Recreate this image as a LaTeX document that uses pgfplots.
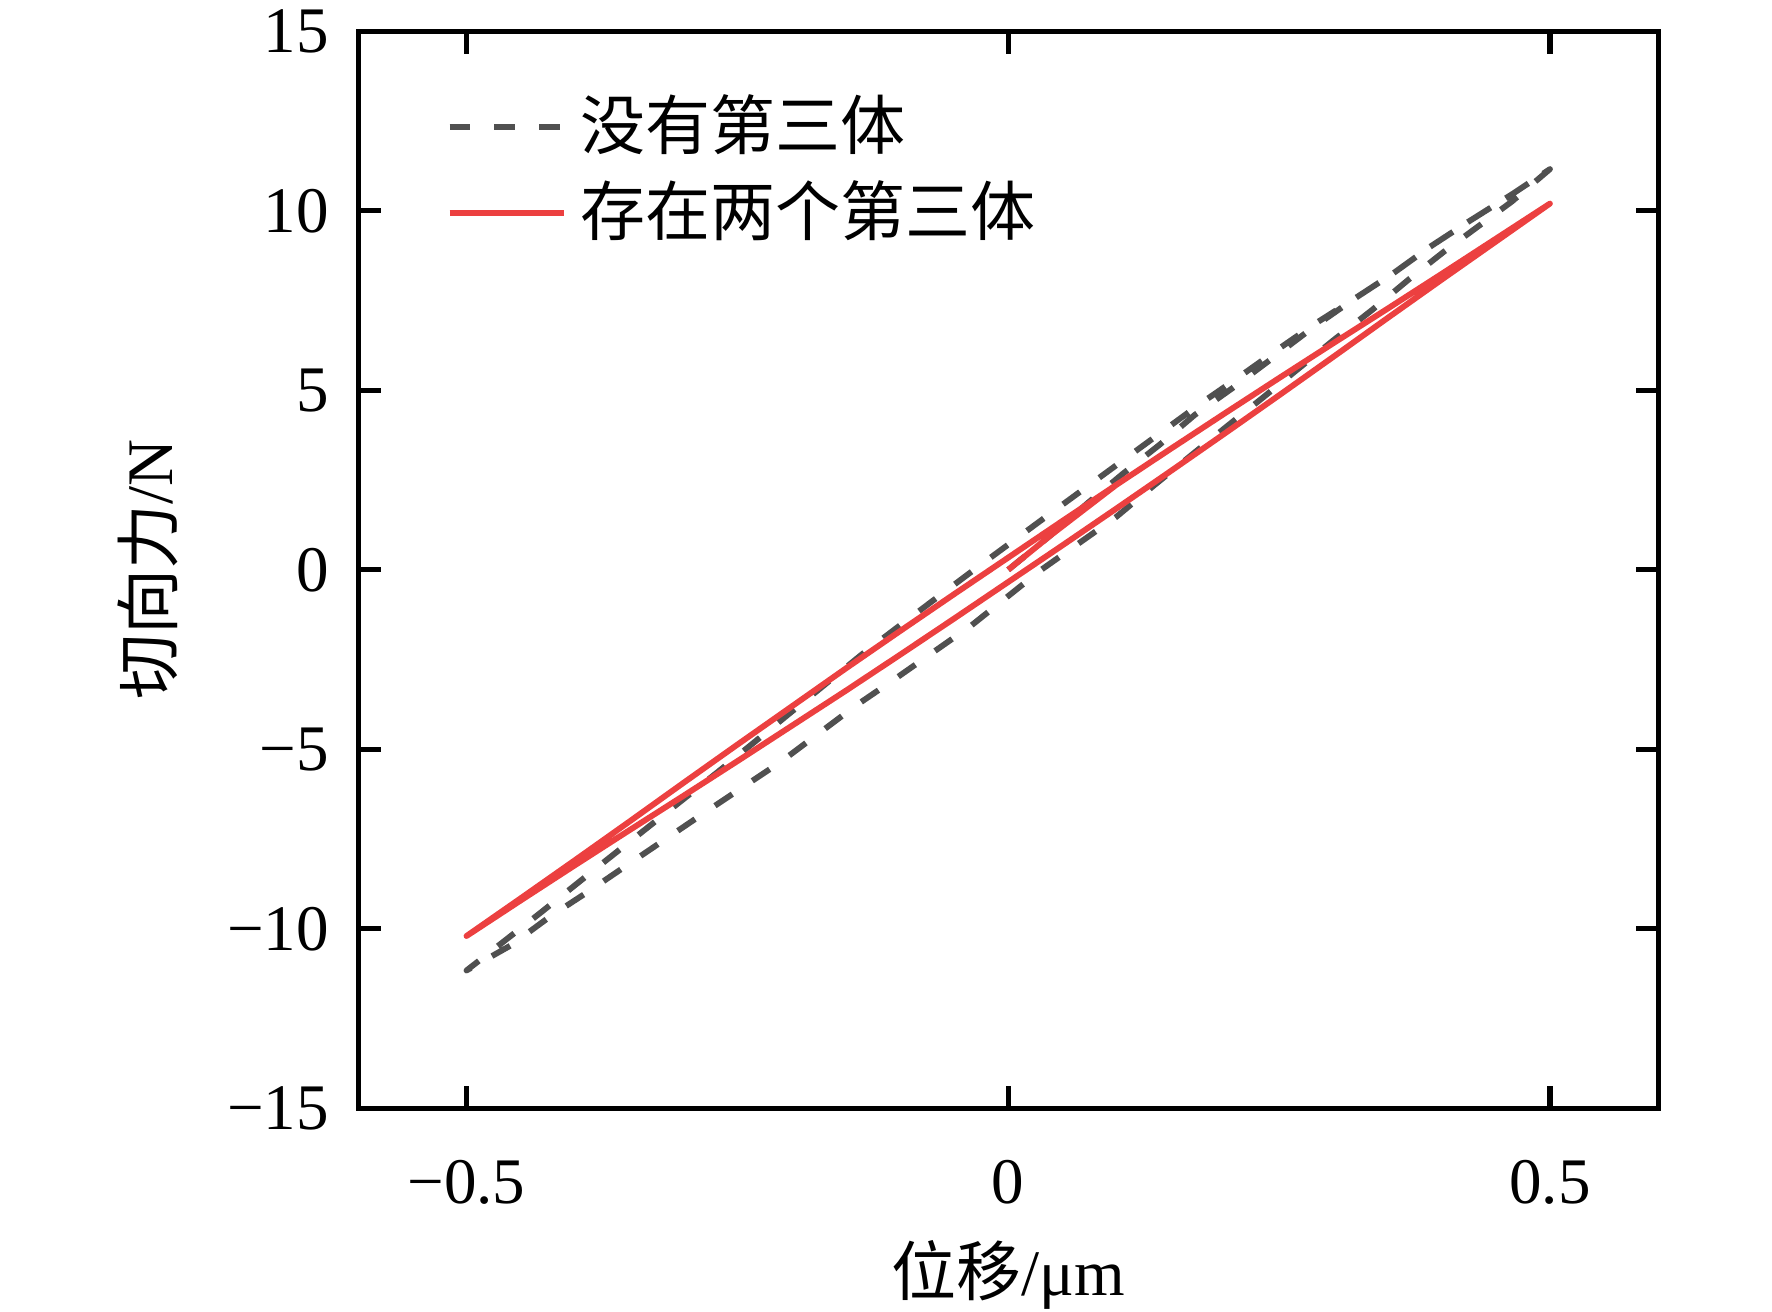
\documentclass[border=0pt]{standalone}
\usepackage{fontspec}
\setmainfont{Liberation Serif}
\newfontfamily\cjk{Noto Sans CJK SC}
\usepackage{pgfplots}
\pgfplotsset{compat=1.18}
\definecolor{dgray}{RGB}{80,80,80}
\definecolor{lred}{RGB}{236,64,64}
\begin{document}
\fontsize{10}{12}\selectfont
\begin{tikzpicture}
\begin{axis}[
  at={(0,0)}, anchor=south west,
  scale only axis, width=200pt, height=165.7pt,
  xmin=-0.6, xmax=0.6, ymin=-15, ymax=15,
  xtick={-0.5,0,0.5}, xticklabels={−0.5,0,0.5},
  ytick={-15,-10,-5,0,5,10,15}, yticklabels={−15,−10,−5,0,5,10,15},
  tick align=inside, major tick length=3.5pt,
  tick style={line width=0.8pt, black},
  axis line style={line width=0.8pt},
  x tick label style={yshift=-4.4pt},
  y tick label style={xshift=-1pt},
  xlabel={{\cjk 位移}/μm},
  ylabel={{\cjk 切向力}/N},
  xlabel style={at={(axis description cs:0.5,-0.155)}, anchor=center},
  ylabel style={at={(axis description cs:-0.1615,0.5)}, anchor=center},
  legend style={draw=none, fill=none, at={(axis description cs:0.067,0.942)}, anchor=north west,
    inner sep=0pt, nodes={inner sep=0pt, font=\cjk}, row sep=3.2pt, column sep=2.1pt},
  legend cell align=left,
  legend image code/.code={\draw[#1] (0pt,0pt) -- (17.6pt,0pt);},
]
\addplot[dgray, line width=0.9pt, dash pattern=on 3.2pt off 3.7pt, line join=round] coordinates {
(0,0) (0.039,0.96) (0.073,1.85) (0.106,2.68) (0.14,3.49) (0.172,4.31) (0.207,5.06) (0.241,5.83) (0.28,6.72) (0.32,7.56)
(0.355,8.25) (0.389,8.99) (0.425,9.7) (0.465,10.46) (0.5,11.16)
(0.465,10.26) (0.403,8.88) (0.369,8.07) (0.336,7.24) (0.3,6.39) (0.234,4.77) (0.202,4.0) (0.135,2.36) (0.1,1.48) (0.03,-0.01)
(-0.034,-1.55) (-0.105,-3.05) (-0.14,-3.77) (-0.21,-5.35) (-0.281,-6.78) (-0.352,-8.23) (-0.388,-8.97) (-0.423,-9.66) (-0.459,-10.46) (-0.5,-11.16)
(-0.432,-9.56) (-0.371,-8.09) (-0.268,-5.63) (-0.134,-2.33) (-0.1,-1.55) (-0.032,-0.01) (0.039,1.57) (0.106,3.05) (0.178,4.64)
(0.213,5.37) (0.248,6.12) (0.282,6.83) (0.32,7.56) (0.355,8.25) (0.389,8.99) (0.425,9.7) (0.465,10.46) (0.5,11.16)
};
\addlegendentry{没有第三体}
\addplot[lred, line width=0.9pt, line join=round] coordinates {
(0,0) (0.04,0.98) (0.09,2.14)
(0.1,2.37) (0.15,3.37) (0.2,4.36) (0.25,5.34) (0.3,6.31) (0.35,7.27) (0.4,8.24) (0.45,9.22) (0.5,10.2)
(0.45,9.14) (0.4,8.08) (0.35,7.01) (0.3,5.93) (0.25,4.86) (0.2,3.80) (0.15,2.75) (0.1,1.71) (0.05,0.68) (0,-0.34)
(-0.05,-1.36) (-0.1,-2.37) (-0.15,-3.37) (-0.2,-4.35) (-0.25,-5.33) (-0.3,-6.30) (-0.35,-7.26) (-0.4,-8.23) (-0.45,-9.21) (-0.5,-10.2)
(-0.45,-9.15) (-0.4,-8.09) (-0.35,-7.02) (-0.3,-5.94) (-0.25,-4.87) (-0.2,-3.81) (-0.15,-2.75) (-0.1,-1.71) (-0.05,-0.68) (0,0.34)
(0.05,1.36) (0.1,2.37) (0.15,3.37) (0.2,4.36) (0.25,5.34) (0.3,6.31) (0.35,7.27) (0.4,8.24) (0.45,9.22) (0.5,10.2)
};
\addlegendentry{存在两个第三体}
\end{axis}
\pgfresetboundingbox
\useasboundingbox (-55.1pt,-31.2pt) rectangle (217.5pt,170.5pt);
\end{tikzpicture}
\end{document}
